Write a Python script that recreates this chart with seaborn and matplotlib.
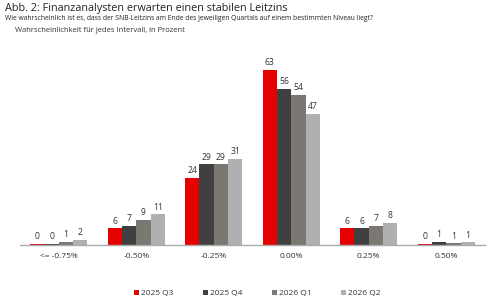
import pandas as pd
import seaborn as sns
import matplotlib.pyplot as plt

# data (bar heights; labels are the rounded values)
intervals = ['<= -0.75%', '-0.50%', '-0.25%', '0.00%', '0.25%', '0.50%']
quarters = ['2025 Q3', '2025 Q4', '2026 Q1', '2026 Q2']
q3_2025 = [0.4, 6, 24, 63, 6, 0.4]
q4_2025 = [0.4, 7, 29, 56, 6, 1.2]
q1_2026 = [1.2, 9, 29, 54, 7, 0.6]
q2_2026 = [1.8, 11, 31, 47, 8, 1.0]
shown_labels = [[0, 6, 24, 63, 6, 0],
                [0, 7, 29, 56, 6, 1],
                [1, 9, 29, 54, 7, 1],
                [2, 11, 31, 47, 8, 1]]
colors = ['#E60000', '#404040', '#7A7870', '#B0B0B0']

rows = []
for q, vals in zip(quarters, [q3_2025, q4_2025, q1_2026, q2_2026]):
    for i, v in zip(intervals, vals):
        rows.append({'Intervall': i, 'Quartal': q, 'Wert': v})
df = pd.DataFrame(rows)

sns.set_style('white')
plt.rcParams['font.family'] = ['Open Sans', 'DejaVu Sans']

fig = plt.figure(figsize=(5, 3), dpi=100)
ax = fig.add_axes([0.04, 0.183, 0.93, 0.65])
sns.barplot(data=df, x='Intervall', y='Wert', hue='Quartal', palette=colors,
            order=intervals, hue_order=quarters, width=0.74, saturation=1,
            linewidth=0, ax=ax)

for cont, labs in zip(ax.containers, shown_labels):
    ax.bar_label(cont, labels=[str(l) for l in labs], padding=2, fontsize=6.2, color='#333333')

ax.set_ylim(0, 70)
ax.set_xlabel('')
ax.set_ylabel('')
ax.set_yticks([])
ax.tick_params(axis='x', length=0, labelsize=6, colors='#333333', pad=6)
for s in ['top', 'right', 'left']:
    ax.spines[s].set_visible(False)
ax.spines['bottom'].set_color('#AAAAAA')
ax.spines['bottom'].set_linewidth(1)

leg = ax.legend(loc='upper center', bbox_to_anchor=(0.51, -0.19), ncol=4, frameon=False,
                fontsize=6, handlelength=0.6, handleheight=0.6, handletextpad=0.2,
                columnspacing=3.6)
for t in leg.get_texts():
    t.set_color('#333333')

fig.text(0.01, 0.965, 'Abb. 2: Finanzanalysten erwarten einen stabilen Leitzins', fontsize=7.8, color='#222222')
fig.text(0.01, 0.935, 'Wie wahrscheinlich ist es, dass der SNB-Leitzins am Ende des jeweiligen Quartals auf einem bestimmten Niveau liegt?',
         fontsize=4.85, color='#222222')
fig.text(0.03, 0.895, 'Wahrscheinlichkeit für jedes Intervall, in Prozent', fontsize=5.5, color='#333333')

fig.savefig('out.png', dpi=100)
